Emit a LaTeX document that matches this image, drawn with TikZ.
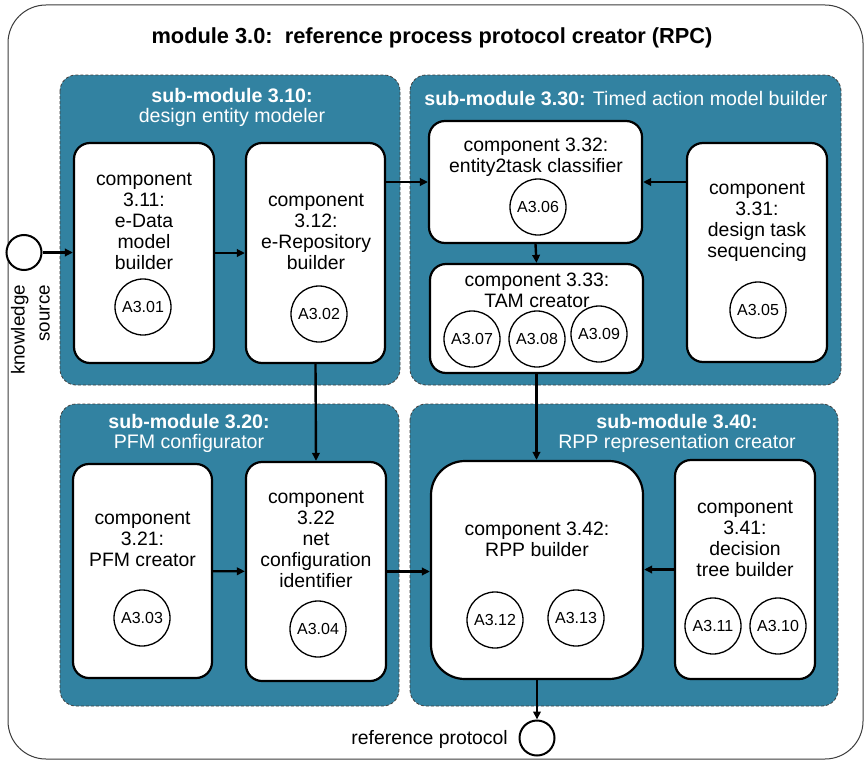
\documentclass[tikz,border=0pt]{standalone}
\usepackage{fontspec}
\setmainfont{Liberation Sans}
\usetikzlibrary{arrows.meta}
\definecolor{subfill}{RGB}{50,130,161}
\definecolor{outerline}{RGB}{60,60,60}
\begin{document}
\begin{tikzpicture}[x=1pt,y=-1pt,
  outerbox/.style={draw=outerline, line width=1pt, rounded corners=38pt},
  subbox/.style={draw=black!75, dashed, dash pattern=on 3pt off 2pt, line width=0.8pt, fill=subfill, rounded corners=16pt},
  comp/.style={draw=black, line width=2.2pt, fill=white, rounded corners=16pt, inner sep=0pt},
  ctext/.style={align=center, font=\fontsize{19.4}{21}\selectfont, inner sep=0pt},
  stitle/.style={align=center, text=white, font=\fontsize{19.6}{20}\selectfont, inner sep=0pt},
  act/.style={circle, draw=black, line width=1.3pt, fill=white, minimum size=56pt, inner sep=0pt, font=\fontsize{16}{18}\selectfont},
  port/.style={circle, draw=black, line width=2pt, fill=white, minimum size=35pt, inner sep=0pt},
  arr/.style={line width=2.4pt, -{Triangle[length=8pt,width=7.5pt]}}
]
\useasboundingbox (0,0) rectangle (864,760);
\fill[white] (0,0) rectangle (864,760);
% outer module
\draw[outerbox] (8,5) rectangle (863,759);
\node[font=\fontsize{21.8}{24}\selectfont\bfseries, inner sep=0pt] (title) at (432,38) {module 3.0:\ \ reference process protocol creator (RPC)};

% sub-modules
\draw[subbox] (60,75) rectangle (400,385);
\draw[subbox] (410,75) rectangle (841,385);
\draw[subbox] (60,404) rectangle (399,706);
\draw[subbox] (410,404) rectangle (838,706);

\node[stitle] (t310) at (232,107) {\textbf{sub-module 3.10:}\\design entity modeler};
\node[stitle] (t330) at (626,99) {\textbf{sub-module 3.30:} Timed action model builder};
\node[stitle] (t320) at (189,433) {\textbf{sub-module 3.20:}\\PFM configurator};
\node[stitle] (t340) at (677,433) {\textbf{sub-module 3.40:}\\RPP representation creator};

% components
\node[comp, minimum width=140pt, minimum height=220pt] (c311) at (144,253) {};
\node[comp, minimum width=139pt, minimum height=220pt] (c312) at (315.5,253) {};
\node[comp, minimum width=213pt, minimum height=122pt] (c332) at (535.5,182) {};
\node[comp, minimum width=213pt, minimum height=109pt] (c333) at (536.5,318.5) {};
\node[comp, minimum width=140pt, minimum height=219pt] (c331) at (757,252.5) {};
\node[comp, minimum width=139pt, minimum height=214pt] (c321) at (142.5,571) {};
\node[comp, minimum width=140pt, minimum height=219pt] (c322) at (316,571.5) {};
\node[comp, minimum width=212pt, minimum height=218pt, rounded corners=34pt] (c342) at (537,570) {};
\node[comp, minimum width=140pt, minimum height=219pt] (c341) at (745,569.5) {};

% component texts
\node[ctext] (x311) at (144,221.5) {component\\3.11:\\e-Data\\model\\builder};
\node[ctext] (x312) at (316,232) {component\\3.12:\\e-Repository\\builder};
\node[ctext] (x332) at (536,157) {component 3.32:\\entity2task classifier};
\node[ctext] (x333) at (537,290.5) {component 3.33:\\TAM creator};
\node[ctext] (x331) at (757,222) {component\\3.31:\\design task\\sequencing};
\node[ctext] (x321) at (142.5,539) {component\\3.21:\\PFM creator};
\node[ctext] (x322) at (316,539) {component\\3.22\\net\\configuration\\identifier};
\node[ctext] (x342) at (537,539.5) {component 3.42:\\RPP builder};
\node[ctext] (x341) at (745,538.5) {component\\3.41:\\decision\\tree builder};

% activity circles
\node[act] (a01) at (143,307) {A3.01};
\node[act] (a02) at (319,314) {A3.02};
\node[act] (a06) at (538,207) {A3.06};
\node[act] (a07) at (472,339) {A3.07};
\node[act] (a08) at (537,339) {A3.08};
\node[act] (a09) at (599,334) {A3.09};
\node[act] (a05) at (758,310) {A3.05};
\node[act] (a03) at (142,618) {A3.03};
\node[act] (a04) at (318,629) {A3.04};
\node[act] (a12) at (495,620) {A3.12};
\node[act] (a13) at (576,618) {A3.13};
\node[act] (a11) at (713,626) {A3.11};
\node[act] (a10) at (778,626) {A3.10};

% ports
\node[port] (ks) at (24,252.5) {};
\node[rotate=90, align=right, inner sep=0pt, font=\fontsize{18.8}{25}\selectfont] (kstext) at (30.5,330) {knowledge\\source};
\node[port] (rp) at (537,738) {};
\node[anchor=east, inner sep=0pt, font=\fontsize{19.4}{21}\selectfont] (rptext) at (508,739) {reference protocol};

% connectors
\draw[arr] (ks) -- (ks -| c311.west);
\draw[arr] (c311) -- (c312);
\draw[arr] (c312.east |- c332.west) -- (c332.west);
\draw[arr] (c331.west |- c332.east) -- (c332.east);
\draw[arr] (c332.south) -- (c333.north);
\draw[arr] (c312.south) -- (c322.north);
\draw[arr] (c333.south) -- (c333.south |- c342.north);
\draw[arr] (c321) -- (c322);
\draw[arr] (c322.east) -- (c322.east -| c342.west);
\draw[arr] (c341.west) -- (c341.west -| c342.east);
\draw[arr] (c342.south) -- (rp.north);
\end{tikzpicture}
\end{document}
